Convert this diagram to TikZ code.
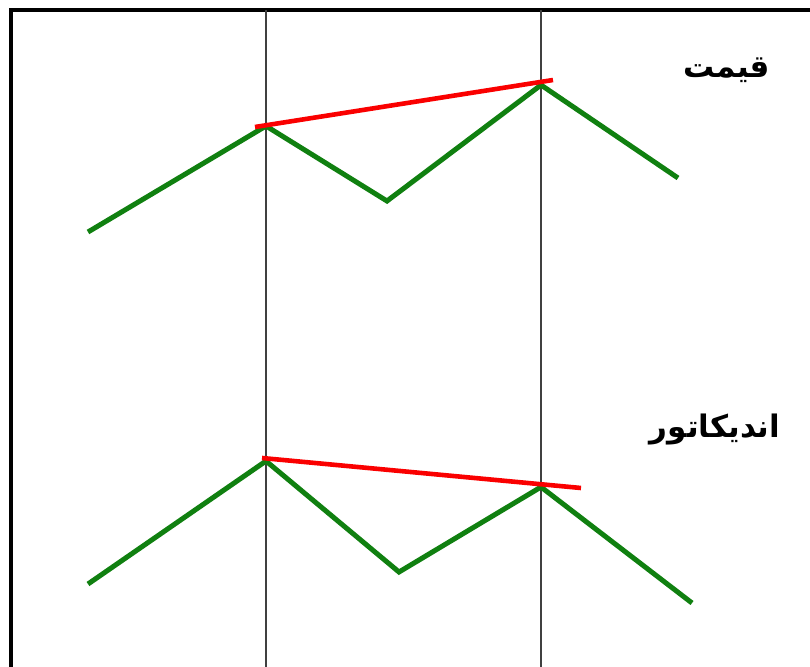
\documentclass[tikz,border=0pt]{standalone}
\usepackage{fontspec}
\newfontfamily\arabicfont[Script=Arabic]{DejaVu Sans}
\TeXXeTstate=1
\definecolor{lgreen}{RGB}{16,128,16}
\definecolor{lred}{RGB}{250,0,0}
\tikzset{
  frameline/.style={draw=black,line width=4pt},
  divline/.style={draw=black!75,line width=2.4pt},
  pricepath/.style={draw=lgreen,line width=5pt,line join=miter},
  trendline/.style={draw=lred,line width=4.6pt},
  label/.style={font=\arabicfont\bfseries\fontsize{31}{36}\selectfont,inner sep=0pt}
}
\begin{document}
\begin{tikzpicture}[x=1pt,y=-1pt]
\useasboundingbox (0,0) rectangle (810,666);
\fill[white] (0,0) rectangle (810,666);
% frame
\coordinate (fbl) at (11,670);
\coordinate (ftl) at (11,10);
\coordinate (ftr) at (812,10);
\draw[frameline] (fbl) -- (ftl) -- (ftr);
% dividers
\coordinate (d1t) at (266,10);
\coordinate (d1b) at (266,670);
\coordinate (d2t) at (541,10);
\coordinate (d2b) at (541,670);
\draw[divline] (d1t) -- (d1b);
\draw[divline] (d2t) -- (d2b);
% top price
\coordinate (p1) at (88,232);
\coordinate (p2) at (266,126);
\coordinate (p3) at (387,201);
\coordinate (p4) at (541,85);
\coordinate (p5) at (678,178);
\draw[pricepath] (p1) -- (p2) -- (p3) -- (p4) -- (p5);
\coordinate (r1a) at (255,127);
\coordinate (r1b) at (553,80);
\draw[trendline] (r1a) -- (r1b);
% bottom indicator
\coordinate (q1) at (88,584);
\coordinate (q2) at (266,461);
\coordinate (q3) at (399,572);
\coordinate (q4) at (541,487);
\coordinate (q5) at (692,603);
\draw[pricepath] (q1) -- (q2) -- (q3) -- (q4) -- (q5);
\coordinate (r2a) at (262,458);
\coordinate (r2b) at (581,488);
\draw[trendline] (r2a) -- (r2b);
% labels
\node[label] (lp) at (727,70) {\beginR قیمت\endR};
\node[label] (li) at (715,430) {\beginR اندیکاتور\endR};
\end{tikzpicture}
\end{document}
